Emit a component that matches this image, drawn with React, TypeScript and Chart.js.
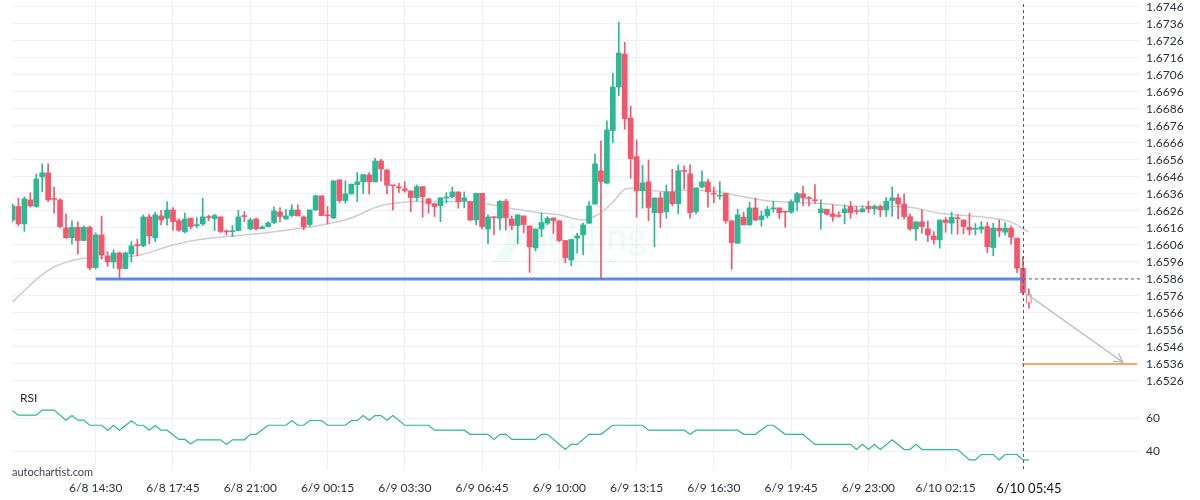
import React, { useEffect, useRef } from 'react';
import { Chart, registerables } from 'chart.js';

Chart.register(...registerables);

// ---- candle data (15-minute candles, index 0 = 6/8 11:00) ----
const OPEN = [
  1.66207, 1.66286, 1.66184, 1.66325, 1.66286, 1.6646, 1.66484, 1.66331, 1.66325, 1.6616,
  1.66102, 1.66164, 1.66086, 1.66164, 1.65927, 1.66119, 1.65996, 1.6596, 1.66013, 1.65921,
  1.66007, 1.66059, 1.66055, 1.66225, 1.66102, 1.66231, 1.66217, 1.66266, 1.66203, 1.66137,
  1.66217, 1.66174, 1.66184, 1.66223, 1.66215, 1.66225, 1.66139, 1.66138, 1.66144, 1.66229,
  1.66154, 1.66213, 1.66156, 1.66168, 1.66192, 1.66254, 1.66213, 1.66233, 1.66266, 1.66225,
  1.6618, 1.66266, 1.66349, 1.66233, 1.66219, 1.66443, 1.66321, 1.6636, 1.66415, 1.66431,
  1.66472, 1.66431, 1.66554, 1.66501, 1.66411, 1.66397, 1.6639, 1.66378, 1.66339, 1.66403,
  1.66331, 1.66303, 1.66291, 1.66336, 1.66343, 1.66372, 1.66319, 1.66315, 1.66207, 1.66364,
  1.66154, 1.66222, 1.66217, 1.66317, 1.66213, 1.66174, 1.66231, 1.66172, 1.66043, 1.66154,
  1.66188, 1.66219, 1.66202, 1.66086, 1.65972, 1.661, 1.66119, 1.66188, 1.663, 1.66496,
  1.66423, 1.66733, 1.66989, 1.67183, 1.66807, 1.6658, 1.66378, 1.66431, 1.6625, 1.66337,
  1.66256, 1.66372, 1.66303, 1.66496, 1.66478, 1.66256, 1.66401, 1.66431, 1.6636, 1.66347,
  1.66362, 1.66202, 1.6607, 1.66223, 1.66178, 1.66278, 1.66209, 1.66233, 1.66272, 1.66278,
  1.66254, 1.66253, 1.66313, 1.66362, 1.66334, 1.66322, 1.6625, 1.6627, 1.66243, 1.6623,
  1.6625, 1.66286, 1.66259, 1.66256, 1.66286, 1.66272, 1.66286, 1.66266, 1.66321, 1.66337,
  1.66301, 1.66227, 1.66154, 1.66196, 1.66154, 1.66113, 1.6609, 1.66207, 1.66188, 1.66216,
  1.66207, 1.66164, 1.66152, 1.66153, 1.66168, 1.66045, 1.66159, 1.66135, 1.66159, 1.661,
  1.65923, 1.65768,
];
const HIGH = [
  1.66301, 1.66335, 1.66344, 1.66368, 1.66478, 1.66537, 1.66537, 1.664, 1.66331, 1.66241,
  1.66202, 1.66196, 1.66172, 1.66172, 1.66131, 1.66229, 1.6602, 1.66031, 1.66019, 1.66019,
  1.6608, 1.66094, 1.66237, 1.66239, 1.6625, 1.66264, 1.66315, 1.6628, 1.66213, 1.66247,
  1.66219, 1.66221, 1.66335, 1.66235, 1.66241, 1.66225, 1.66149, 1.66174, 1.66264, 1.66256,
  1.66217, 1.66219, 1.66172, 1.66196, 1.66284, 1.6628, 1.6627, 1.66296, 1.66296, 1.66231,
  1.66266, 1.66354, 1.66349, 1.66286, 1.66438, 1.66443, 1.66437, 1.66419, 1.66486, 1.66474,
  1.66486, 1.6657, 1.66564, 1.66505, 1.66411, 1.66423, 1.66433, 1.66378, 1.66413, 1.66403,
  1.66335, 1.66303, 1.66337, 1.66368, 1.664, 1.66372, 1.66372, 1.66315, 1.66364, 1.66364,
  1.66237, 1.66225, 1.66321, 1.66329, 1.66231, 1.66237, 1.66231, 1.66172, 1.66154, 1.66247,
  1.66227, 1.66219, 1.66202, 1.66086, 1.66092, 1.66129, 1.66188, 1.66315, 1.66596, 1.66672,
  1.6679, 1.6707, 1.6737, 1.67252, 1.66876, 1.66678, 1.66529, 1.6656, 1.66337, 1.66368,
  1.66413, 1.66505, 1.66531, 1.66525, 1.66531, 1.66396, 1.66496, 1.66448, 1.66401, 1.66433,
  1.66362, 1.66202, 1.6627, 1.66253, 1.66311, 1.66335, 1.6626, 1.66286, 1.66317, 1.66278,
  1.66254, 1.66325, 1.6637, 1.66407, 1.66344, 1.66415, 1.66325, 1.6627, 1.66296, 1.66256,
  1.66296, 1.66317, 1.66286, 1.6629, 1.66317, 1.66296, 1.66296, 1.66339, 1.66401, 1.66359,
  1.66359, 1.66241, 1.66196, 1.66266, 1.66202, 1.66139, 1.66207, 1.66221, 1.66253, 1.66237,
  1.66207, 1.66247, 1.66186, 1.66197, 1.66192, 1.66188, 1.66207, 1.66192, 1.66172, 1.661,
  1.65992, 1.65802,
];
const LOW = [
  1.66196, 1.66172, 1.6614, 1.66282, 1.66282, 1.66374, 1.66315, 1.66247, 1.6616, 1.661,
  1.66065, 1.66006, 1.66084, 1.65913, 1.65919, 1.65976, 1.65933, 1.65923, 1.65866, 1.65919,
  1.65959, 1.65996, 1.66049, 1.66066, 1.6608, 1.66178, 1.66176, 1.66147, 1.6614, 1.66131,
  1.66153, 1.66162, 1.66174, 1.66202, 1.66144, 1.66133, 1.66119, 1.66109, 1.66143, 1.66197,
  1.66149, 1.66149, 1.66154, 1.66166, 1.66184, 1.66196, 1.66212, 1.66227, 1.66231, 1.66149,
  1.66168, 1.66262, 1.66231, 1.66184, 1.66215, 1.66309, 1.66306, 1.66359, 1.66315, 1.66362,
  1.66359, 1.66431, 1.66435, 1.6636, 1.66264, 1.66368, 1.6637, 1.66256, 1.66319, 1.66223,
  1.66247, 1.66227, 1.66197, 1.66306, 1.66337, 1.66276, 1.66278, 1.66202, 1.66178, 1.66154,
  1.66068, 1.66121, 1.66149, 1.66149, 1.66149, 1.66066, 1.66131, 1.65898, 1.66025, 1.66109,
  1.66178, 1.66127, 1.6608, 1.65955, 1.65937, 1.66012, 1.66002, 1.66186, 1.663, 1.65862,
  1.66423, 1.6666, 1.66937, 1.6674, 1.66452, 1.66223, 1.66276, 1.66203, 1.6605, 1.66162,
  1.66217, 1.6629, 1.66243, 1.6639, 1.66217, 1.66243, 1.66396, 1.66282, 1.66307, 1.66329,
  1.66188, 1.65917, 1.6607, 1.66178, 1.66176, 1.66203, 1.6617, 1.66219, 1.66253, 1.66215,
  1.66164, 1.66247, 1.66262, 1.6629, 1.6629, 1.66306, 1.66153, 1.66237, 1.662, 1.66223,
  1.66184, 1.66217, 1.66241, 1.66253, 1.6625, 1.66241, 1.66225, 1.66227, 1.66228, 1.66213,
  1.66213, 1.66146, 1.66086, 1.66129, 1.6608, 1.66065, 1.66041, 1.66135, 1.66125, 1.66123,
  1.66125, 1.66119, 1.66119, 1.66129, 1.66015, 1.65996, 1.66109, 1.66119, 1.66065, 1.65897,
  1.65766, 1.65688,
];
const CLOSE = [
  1.6629, 1.66184, 1.66331, 1.6629, 1.66448, 1.66484, 1.66325, 1.66328, 1.66168, 1.66102,
  1.66164, 1.66086, 1.66164, 1.65925, 1.66119, 1.66, 1.6596, 1.66013, 1.65921, 1.66013,
  1.66055, 1.66056, 1.66225, 1.66113, 1.66237, 1.66207, 1.66266, 1.66197, 1.66147, 1.66213,
  1.66168, 1.66177, 1.66225, 1.66221, 1.66233, 1.66139, 1.66137, 1.6614, 1.66225, 1.66227,
  1.66207, 1.66154, 1.66166, 1.6619, 1.6626, 1.66227, 1.66231, 1.66266, 1.66231, 1.66166,
  1.66266, 1.66349, 1.66233, 1.66231, 1.66437, 1.66321, 1.6636, 1.66417, 1.66431, 1.66474,
  1.66431, 1.66554, 1.66507, 1.66411, 1.66408, 1.66396, 1.6638, 1.66339, 1.66403, 1.66344,
  1.66303, 1.66286, 1.66337, 1.66338, 1.66372, 1.66315, 1.66337, 1.66207, 1.66364, 1.66168,
  1.66225, 1.6622, 1.66317, 1.66221, 1.66174, 1.66237, 1.6618, 1.66049, 1.66154, 1.66192,
  1.66217, 1.66203, 1.66086, 1.65984, 1.66092, 1.66113, 1.66178, 1.6629, 1.66537, 1.66433,
  1.66737, 1.66989, 1.67189, 1.66803, 1.66568, 1.66378, 1.66425, 1.6628, 1.66337, 1.66249,
  1.66372, 1.66303, 1.66496, 1.66493, 1.6625, 1.66396, 1.66431, 1.66372, 1.66359, 1.6635,
  1.66202, 1.66074, 1.66237, 1.66178, 1.66278, 1.66207, 1.66231, 1.6627, 1.66274, 1.6625,
  1.66253, 1.66315, 1.66362, 1.66337, 1.66332, 1.6632, 1.66272, 1.66241, 1.66227, 1.66228,
  1.66272, 1.6625, 1.66257, 1.66272, 1.66272, 1.66286, 1.66266, 1.66317, 1.66337, 1.66301,
  1.66227, 1.66154, 1.66196, 1.66168, 1.66119, 1.6609, 1.66207, 1.66192, 1.66223, 1.66214,
  1.66168, 1.66149, 1.66153, 1.66166, 1.6605, 1.66159, 1.66143, 1.66159, 1.66106, 1.65923,
  1.6578, 1.65717,
];
const HOLLOW_INDEX = 171; // current (unfinished) candle

// ---- moving average (read at points along the grey line) ----
const MA_X = [0, 2.1, 4.9, 7.7, 11.9, 18.1, 21.5, 27, 31.5, 37.1, 42.8, 48.4, 52.9, 56.8, 61.8, 66.9, 70.7, 76.4, 79.2, 83.7, 88.7, 92.1, 96, 98.8, 101.1, 102.8, 104.4, 106.7, 110.1, 112.3, 119, 121.3, 126.9, 132.5, 137, 140.9, 145.9, 151, 156, 162.8, 166.1, 167.8, 169.5, 170.9];
const MA_Y = [1.65725, 1.65795, 1.65883, 1.65942, 1.65982, 1.65988, 1.66001, 1.6606, 1.66092, 1.66113, 1.66132, 1.66158, 1.66183, 1.66217, 1.66289, 1.66315, 1.66315, 1.66315, 1.66305, 1.66276, 1.6625, 1.66236, 1.66207, 1.66245, 1.66315, 1.66383, 1.66395, 1.66383, 1.66373, 1.66383, 1.66373, 1.66354, 1.6632, 1.66309, 1.66301, 1.66289, 1.66286, 1.66282, 1.66246, 1.66226, 1.66211, 1.66197, 1.66167, 1.66135];

// ---- RSI (vertices of the line) ----
const RSI_X = [0, 1, 4, 5, 7, 9, 10, 11, 12, 13, 15, 16, 17, 18, 20, 21, 22, 23, 24, 25, 26, 28, 29, 30, 31, 35, 36, 37, 39, 40, 41, 43, 46, 47, 48, 49, 50, 52, 53, 56, 57, 58, 59, 60, 61, 62, 63, 64, 66, 70, 71, 76, 77, 80, 81, 82, 83, 84, 88, 89, 90, 93, 94, 95, 97, 99, 101, 106, 107, 113, 114, 115, 122, 123, 125, 127, 128, 130, 133, 135, 141, 142, 143, 144, 145, 146, 148, 150, 151, 152, 153, 159, 161, 162, 163, 165, 166, 167, 169, 170, 171];
const RSI_Y = [64.7, 62.0, 62.0, 65.1, 65.1, 59.0, 61.8, 59.0, 59.0, 55.9, 55.9, 52.9, 55.7, 52.9, 58.6, 55.9, 55.9, 52.9, 55.7, 52.9, 52.9, 47.3, 47.3, 44.5, 47.1, 47.1, 44.3, 47.1, 47.1, 50.4, 50.4, 55.9, 55.9, 58.8, 55.9, 55.9, 58.8, 58.8, 55.9, 55.9, 58.8, 58.8, 61.8, 59.0, 61.8, 61.8, 59.0, 61.8, 55.9, 55.9, 52.9, 52.9, 50.4, 50.4, 47.3, 50.4, 50.4, 47.3, 47.3, 50.4, 50.4, 41.2, 44.3, 44.3, 50.4, 50.4, 55.9, 55.9, 52.9, 52.9, 50.4, 52.9, 52.9, 50.4, 50.4, 55.9, 55.9, 50.4, 50.4, 44.3, 44.3, 41.2, 44.3, 41.2, 44.3, 41.2, 47.1, 41.2, 41.2, 44.3, 41.2, 41.2, 34.9, 34.9, 38.2, 38.2, 34.9, 38.2, 38.2, 34.9, 34.9];

// ---- axes ----
const PRICE_TICKS = [1.6746, 1.6736, 1.6726, 1.6716, 1.6706, 1.6696, 1.6686, 1.6676, 1.6666, 1.6656, 1.6646, 1.6636, 1.6626, 1.6616, 1.6606, 1.6596, 1.6586, 1.6576, 1.6566, 1.6556, 1.6546, 1.6536, 1.6526];
const RSI_TICKS = [40, 60];
const X_TICK_INDEX = [14, 27, 40, 53, 66, 79, 92, 105, 118, 131, 144, 157, 171];
const X_TICK_LABELS = ['6/8 14:30', '6/8 17:45', '6/8 21:00', '6/9 00:15', '6/9 03:30', '6/9 06:45', '6/9 10:00', '6/9 13:15', '6/9 16:30', '6/9 19:45', '6/9 23:00', '6/10 02:15', '6/10 05:45'];
const CURRENT_LABEL_INDEX = 171;

// ---- pattern annotations ----
const SUPPORT_LEVEL = 1.6586;
const SUPPORT_FROM = 14;
const SUPPORT_TO = 170;
const TARGET_LEVEL = 1.6536;
const TARGET_FROM = 169.8;
const TARGET_TO = 189.2;
const LEVEL_DASH_TO = 189.7;
const ARROW_FROM_X = 170.3;
const ARROW_FROM_Y = 1.6578;
const ARROW_TO_X = 186.8;
const ARROW_TO_Y = 1.6537;
const CURSOR_INDEX = 170;

const X_MIN = -0.084;
const X_MAX = 189.69;
const PRICE_MIN = 1.65242;
const PRICE_MAX = 1.67501;
const RSI_MIN = 28.8;
const RSI_MAX = 80.9;

const UP = '#2bb894';
const DOWN = '#f5566b';
const FONT = 'Lato, "Open Sans", sans-serif';
const TEXT = '#2a2f3a';
const GRID = '#eef1f6';

const overlayPlugin = {
  id: 'overlay',
  beforeDatasetsDraw(chart: any) {
    const ctx = chart.ctx;
    ctx.save();
    ctx.fillStyle = 'rgba(43,184,148,0.07)';
    ctx.beginPath();
    ctx.moveTo(493, 213);
    ctx.lineTo(506, 213);
    ctx.lineTo(521, 238);
    ctx.lineTo(506, 263);
    ctx.lineTo(493, 263);
    ctx.lineTo(508, 238);
    ctx.closePath();
    ctx.fill();
    ctx.font = `bold 38px ${FONT}`;
    ctx.textBaseline = 'alphabetic';
    ctx.fillText('Skilling', 527, 250);
    ctx.font = `bold 12px ${FONT}`;
    ctx.fillText('Join. Trade. Grow.', 524, 265);
    ctx.restore();
  },
  afterDatasetsDraw(chart: any) {
    const ctx = chart.ctx;
    const xs = chart.scales.x;
    const ys = chart.scales.y;
    const area = chart.chartArea;
    ctx.save();
    // cursor line
    const cx = Math.round(xs.getPixelForValue(CURSOR_INDEX)) + 0.5;
    ctx.strokeStyle = '#555b66';
    ctx.lineWidth = 1;
    ctx.setLineDash([3, 3]);
    ctx.beginPath();
    ctx.moveTo(cx, area.top + 4);
    ctx.lineTo(cx, area.bottom);
    ctx.stroke();
    ctx.setLineDash([]);
    // arrow head
    const x1 = xs.getPixelForValue(ARROW_FROM_X);
    const y1 = ys.getPixelForValue(ARROW_FROM_Y);
    const x2 = xs.getPixelForValue(ARROW_TO_X);
    const y2 = ys.getPixelForValue(ARROW_TO_Y);
    const ang = Math.atan2(y2 - y1, x2 - x1);
    const len = 10;
    ctx.strokeStyle = '#b5b8bd';
    ctx.lineWidth = 1.3;
    ctx.beginPath();
    ctx.moveTo(x2 - len * Math.cos(ang - 0.5), y2 - len * Math.sin(ang - 0.5));
    ctx.lineTo(x2, y2);
    ctx.lineTo(x2 - len * Math.cos(ang + 0.5), y2 - len * Math.sin(ang + 0.5));
    ctx.stroke();
    ctx.restore();
  },
};

export default function App() {
  const canvasRef = useRef<HTMLCanvasElement | null>(null);

  useEffect(() => {
    if (!canvasRef.current) return;
    const idx = OPEN.map((_, i) => i);
    const isUp = (i: number) => CLOSE[i] >= OPEN[i];
    const colorOf = (i: number) => (isUp(i) ? UP : DOWN);

    const wickData = idx.map((i) => ({ x: i, y: [LOW[i], HIGH[i]] }));
    const bodyData = idx.map((i) => ({ x: i, y: [OPEN[i], CLOSE[i]] }));

    const chart = new Chart(canvasRef.current, {
      type: 'bar',
      data: {
        datasets: [
          {
            type: 'line',
            label: 'support',
            data: [
              { x: SUPPORT_FROM, y: SUPPORT_LEVEL },
              { x: SUPPORT_TO, y: SUPPORT_LEVEL },
            ],
            borderColor: 'rgba(74,125,232,0.9)',
            borderWidth: 3,
            pointRadius: 0,
            yAxisID: 'y',
            order: 1,
          },
          {
            type: 'line',
            label: 'level-dash',
            data: [
              { x: CURSOR_INDEX, y: SUPPORT_LEVEL },
              { x: LEVEL_DASH_TO, y: SUPPORT_LEVEL },
            ],
            borderColor: '#555b66',
            borderWidth: 1,
            borderDash: [3, 3],
            pointRadius: 0,
            yAxisID: 'y',
            order: 1,
            clip: false,
          },
          {
            type: 'line',
            label: 'target',
            data: [
              { x: TARGET_FROM, y: TARGET_LEVEL },
              { x: TARGET_TO, y: TARGET_LEVEL },
            ],
            borderColor: '#ff8433',
            borderWidth: 1.5,
            pointRadius: 0,
            yAxisID: 'y',
            order: 1,
          },
          {
            type: 'line',
            label: 'arrow',
            data: [
              { x: ARROW_FROM_X, y: ARROW_FROM_Y },
              { x: ARROW_TO_X, y: ARROW_TO_Y },
            ],
            borderColor: '#b5b8bd',
            borderWidth: 1.3,
            pointRadius: 0,
            yAxisID: 'y',
            order: 1,
          },
          {
            type: 'bar',
            label: 'body',
            data: bodyData as any,
            backgroundColor: idx.map((i) => (i === HOLLOW_INDEX ? '#ffffff' : colorOf(i))),
            borderColor: idx.map((i) => (i === HOLLOW_INDEX ? DOWN : colorOf(i))),
            borderWidth: idx.map((i) => (i === HOLLOW_INDEX ? 1 : 0)),
            borderSkipped: false,
            barThickness: 5,
            minBarLength: 1,
            grouped: false,
            yAxisID: 'y',
            order: 4,
          },
          {
            type: 'bar',
            label: 'wick',
            data: wickData as any,
            backgroundColor: idx.map((i) => (i === HOLLOW_INDEX ? DOWN : colorOf(i))),
            borderWidth: 0,
            barThickness: 1,
            grouped: false,
            yAxisID: 'y',
            order: 5,
          },
          {
            type: 'line',
            label: 'ma',
            data: MA_X.map((x, i) => ({ x, y: MA_Y[i] })),
            borderColor: '#cdcdcd',
            borderWidth: 1.5,
            pointRadius: 0,
            tension: 0.3,
            yAxisID: 'y',
            order: 6,
          },
          {
            type: 'line',
            label: 'rsi',
            data: RSI_X.map((x, i) => ({ x, y: RSI_Y[i] })),
            borderColor: '#2bb894',
            borderWidth: 1.2,
            pointRadius: 0,
            tension: 0,
            yAxisID: 'rsi',
            order: 2,
          },
        ] as any,
      },
      options: {
        animation: false,
        responsive: true,
        maintainAspectRatio: false,
        devicePixelRatio: 1,
        events: [],
        layout: { padding: { left: 12, right: 0, top: 0, bottom: 0 } },
        plugins: {
          legend: { display: false },
          tooltip: { enabled: false },
        },
        scales: {
          x: {
            type: 'linear',
            min: X_MIN,
            max: X_MAX,
            offset: false,
            border: { display: false },
            grid: {
              offset: false,
              drawTicks: false,
              color: (c: any) => (c.tick && c.tick.value === CURRENT_LABEL_INDEX ? 'rgba(0,0,0,0)' : GRID),
            },
            ticks: {
              autoSkip: false,
              maxRotation: 0,
              minRotation: 0,
              padding: 11,
              color: (c: any) => (c.tick && c.tick.value === CURRENT_LABEL_INDEX ? '#111' : TEXT),
              font: (c: any) =>
                c.tick && c.tick.value === CURRENT_LABEL_INDEX
                  ? { family: FONT, size: 13 }
                  : { family: FONT, size: 12 },
              callback: (v: any) => {
                const k = X_TICK_INDEX.indexOf(Number(v));
                return k >= 0 ? X_TICK_LABELS[k] : '';
              },
            },
            afterBuildTicks: (s: any) => {
              s.ticks = X_TICK_INDEX.map((v) => ({ value: v }));
            },
            afterFit: (s: any) => {
              s.height = 30;
              s.paddingLeft = 0;
              s.paddingRight = 0;
            },
          },
          y: {
            type: 'linear',
            position: 'right',
            stack: 'panes',
            stackWeight: 384,
            weight: 1,
            min: PRICE_MIN,
            max: PRICE_MAX,
            border: { display: false },
            grid: { color: GRID, drawTicks: false },
            ticks: {
              autoSkip: false,
              padding: 6,
              color: TEXT,
              font: { family: FONT, size: 12 },
              callback: (v: any) => Number(v).toFixed(4),
            },
            afterBuildTicks: (s: any) => {
              s.ticks = PRICE_TICKS.map((v) => ({ value: v }));
            },
            afterFit: (s: any) => {
              s.width = 60;
              s.paddingTop = 0;
              s.paddingBottom = 0;
            },
          },
          rsi: {
            type: 'linear',
            position: 'right',
            stack: 'panes',
            stackWeight: 86,
            weight: 2,
            min: RSI_MIN,
            max: RSI_MAX,
            border: { display: false },
            grid: { color: GRID, drawTicks: false },
            ticks: {
              autoSkip: false,
              padding: 6,
              color: TEXT,
              font: { family: FONT, size: 12 },
              callback: (v: any) => String(v),
            },
            afterBuildTicks: (s: any) => {
              s.ticks = RSI_TICKS.map((v) => ({ value: v }));
            },
            afterFit: (s: any) => {
              s.width = 60;
              s.paddingTop = 0;
              s.paddingBottom = 0;
            },
          },
        },
      } as any,
      plugins: [overlayPlugin],
    });

    return () => {
      chart.destroy();
    };
  }, []);

  return (
    <div
      style={{
        position: 'fixed',
        left: 0,
        top: 0,
        width: 1200,
        height: 500,
        background: '#ffffff',
        fontFamily: FONT,
      }}
    >
      <canvas ref={canvasRef} />
      <div
        style={{
          position: 'absolute',
          left: 20,
          top: 391,
          fontSize: 12,
          color: '#1f2430',
          lineHeight: '14px',
        }}
      >
        RSI
      </div>
      <div
        style={{
          position: 'absolute',
          left: 12,
          top: 465,
          fontSize: 11,
          color: '#3a3f48',
          lineHeight: '13px',
        }}
      >
        autochartist.com
      </div>
    </div>
  );
}
